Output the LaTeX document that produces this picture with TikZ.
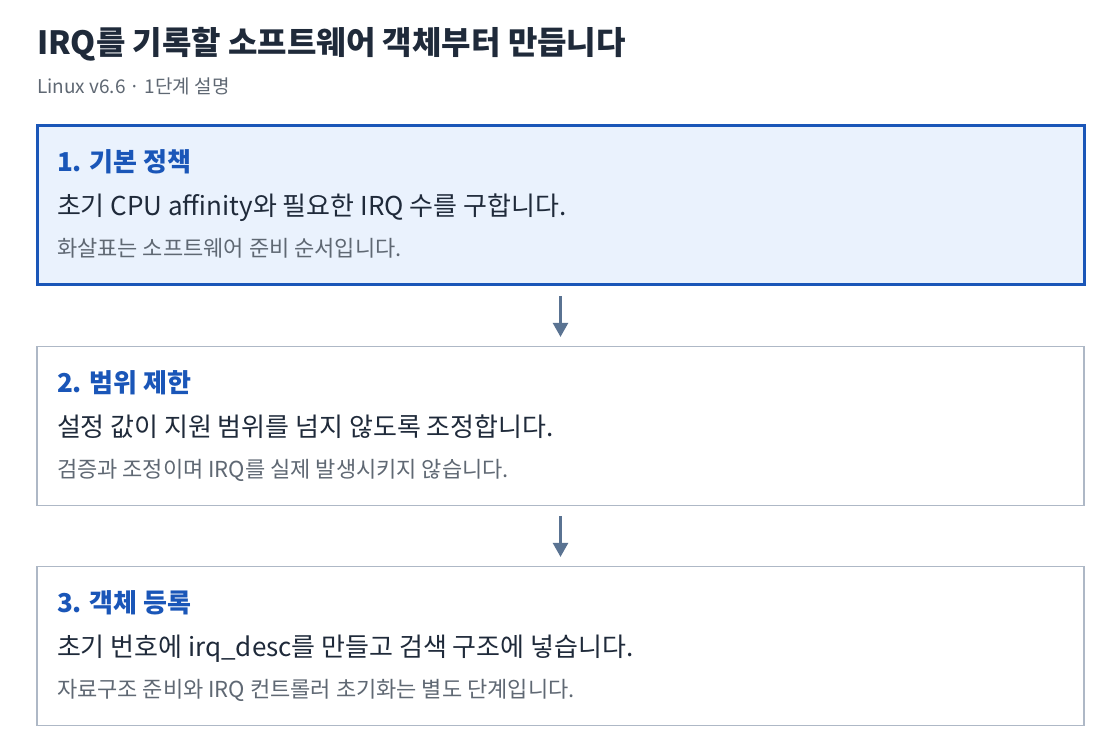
\documentclass[tikz,border=0pt]{standalone}
\usepackage{fontspec}
\setmainfont{Noto Sans CJK KR}
\usetikzlibrary{arrows.meta}
\definecolor{titlecol}{HTML}{1F2A3A}
\definecolor{subcol}{HTML}{5F6873}
\definecolor{headcol}{HTML}{1A56B8}
\definecolor{maincol}{HTML}{1F2A3A}
\definecolor{notecol}{HTML}{5F6873}
\definecolor{activeborder}{HTML}{1A56B8}
\definecolor{activefill}{HTML}{EAF2FD}
\definecolor{plainborder}{HTML}{AEB8C6}
\definecolor{arrowcol}{HTML}{5A7392}
\tikzset{
  x=1pt, y=-1pt,
  stepbox/.style={draw=plainborder, line width=1.2pt, fill=white, minimum width=1047pt, minimum height=159pt, inner sep=0pt},
  activebox/.style={stepbox, draw=activeborder, line width=3pt, fill=activefill},
  txt/.style={anchor=base west, inner sep=0pt, outer sep=0pt},
  headtxt/.style={txt, font=\fontsize{26}{30}\selectfont\bfseries, text=headcol},
  maintxt/.style={txt, font=\fontsize{26}{30}\selectfont, text=maincol},
  notetxt/.style={txt, font=\fontsize{22}{26}\selectfont, text=notecol},
  flow/.style={draw=arrowcol, line width=2.6pt, -{Triangle[width=15pt,length=14pt]}, shorten <=10pt, shorten >=9pt}
}
\begin{document}
\begin{tikzpicture}
\useasboundingbox[fill=white] (0,0) rectangle (1120,754);
\node[txt, font=\fontsize{32}{36}\selectfont\bfseries, text=titlecol] (title) at (37,55) {IRQ를 기록할 소프트웨어 객체부터 만듭니다};
\node[txt, font=\fontsize{19}{22}\selectfont, text=subcol] (sub) at (37,94) {Linux v6.6 · 1단계 설명};

\node[activebox] (b1) at (560.5,205.5) {};
\node[stepbox] (b2) at (560.5,426) {};
\node[stepbox] (b3) at (560.5,646) {};

\node[headtxt] (h1) at (57,172) {1. 기본 정책};
\node[maintxt] (m1) at (57,216) {초기 CPU affinity와 필요한 IRQ 수를 구합니다.};
\node[notetxt] (n1) at (57,257) {화살표는 소프트웨어 준비 순서입니다.};

\node[headtxt] (h2) at (57,392) {2. 범위 제한};
\node[maintxt] (m2) at (57,436) {설정 값이 지원 범위를 넘지 않도록 조정합니다.};
\node[notetxt] (n2) at (57,477) {검증과 조정이며 IRQ를 실제 발생시키지 않습니다.};

\node[headtxt] (h3) at (57,612) {3. 객체 등록};
\node[maintxt] (m3) at (57,656) {초기 번호에 irq\_desc를 만들고 검색 구조에 넣습니다.};
\node[notetxt] (n3) at (57,697) {자료구조 준비와 IRQ 컨트롤러 초기화는 별도 단계입니다.};

\draw[flow] (b1) -- (b2);
\draw[flow] (b2) -- (b3);
\end{tikzpicture}
\end{document}
